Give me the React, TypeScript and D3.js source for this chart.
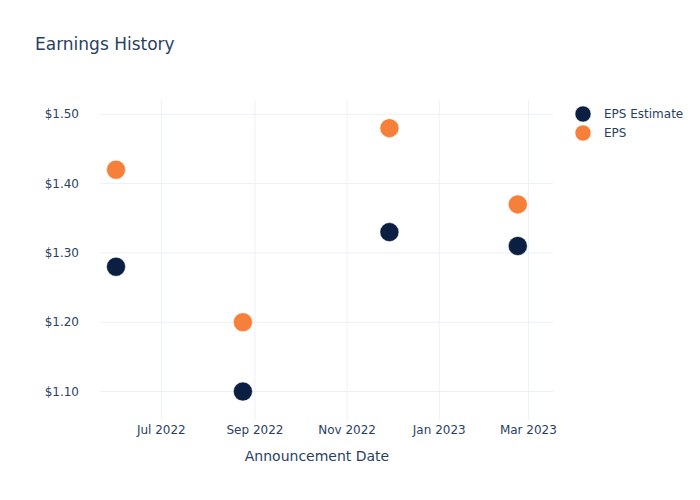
import React from "react";
import * as d3 from "d3";

const dates = ["2022-06-01", "2022-08-24", "2022-11-29", "2023-02-22"];
const epsEstimate = [1.28, 1.10, 1.33, 1.31];
const eps = [1.42, 1.20, 1.48, 1.37];
const xTicks = ["2022-07-01", "2022-09-01", "2022-11-01", "2023-01-01", "2023-03-01"];
const yTicks = [1.1, 1.2, 1.3, 1.4, 1.5];
const seriesNames = ["EPS Estimate", "EPS"];
const seriesColors = ["#0b1f42", "#f6803a"];

const W = 700, H = 500;
const L = 100, R = 553, T = 100, B = 420;
const FONT = "'DejaVu Sans', Verdana, sans-serif";
const TEXT = "#2a3f5f";
const GRID = "#ebf0f8";

const parse = (s: string) => new Date(s + "T00:00:00Z");
const DAY = 86400000;

export default function App() {
  const x = d3
    .scaleUtc()
    .domain([new Date(parse("2022-07-01").getTime() - 40.6 * DAY), new Date(parse("2022-07-01").getTime() + 259.3 * DAY)])
    .range([L, R]);
  const y = d3.scaleLinear().domain([1.0589, 1.5206]).range([B, T]);
  const fmtX = d3.utcFormat("%b %Y");
  const series = [epsEstimate, eps];

  return (
    <svg width={W} height={H} style={{ position: "absolute", left: 0, top: 0, background: "#fff" }} fontFamily={FONT}>
      <rect width={W} height={H} fill="#fff" />
      {xTicks.map((t) => (
        <line key={t} x1={x(parse(t))} x2={x(parse(t))} y1={T} y2={B} stroke={GRID} strokeWidth={1} />
      ))}
      {yTicks.map((t) => (
        <line key={t} x1={L} x2={R} y1={y(t)} y2={y(t)} stroke={GRID} strokeWidth={1} />
      ))}
      {yTicks.map((t) => (
        <text key={t} x={79} y={y(t)} dy="0.35em" textAnchor="end" fontSize={12} fill={TEXT}>
          {"$" + t.toFixed(2)}
        </text>
      ))}
      {xTicks.map((t) => (
        <text key={t} x={x(parse(t))} y={434} textAnchor="middle" fontSize={12} fill={TEXT}>
          {fmtX(parse(t))}
        </text>
      ))}
      {series.map((vals, si) =>
        vals.map((v, i) => (
          <circle
            key={si + "-" + i}
            cx={x(parse(dates[i]))}
            cy={y(v)}
            r={9.5}
            fill={seriesColors[si]}
            stroke="#fff"
            strokeWidth={0.5}
          />
        ))
      )}
      <text x={35} y={50} fontSize={17} fill={TEXT}>Earnings History</text>
      <text x={317} y={461} textAnchor="middle" fontSize={14} fill={TEXT}>Announcement Date</text>
      {seriesNames.map((n, i) => (
        <g key={n} transform={`translate(583,${114 + i * 19})`}>
          <circle r={8} fill={seriesColors[i]} stroke="#fff" strokeWidth={0.5} />
          <text x={21} dy="0.35em" fontSize={12} fill={TEXT}>{n}</text>
        </g>
      ))}
    </svg>
  );
}
